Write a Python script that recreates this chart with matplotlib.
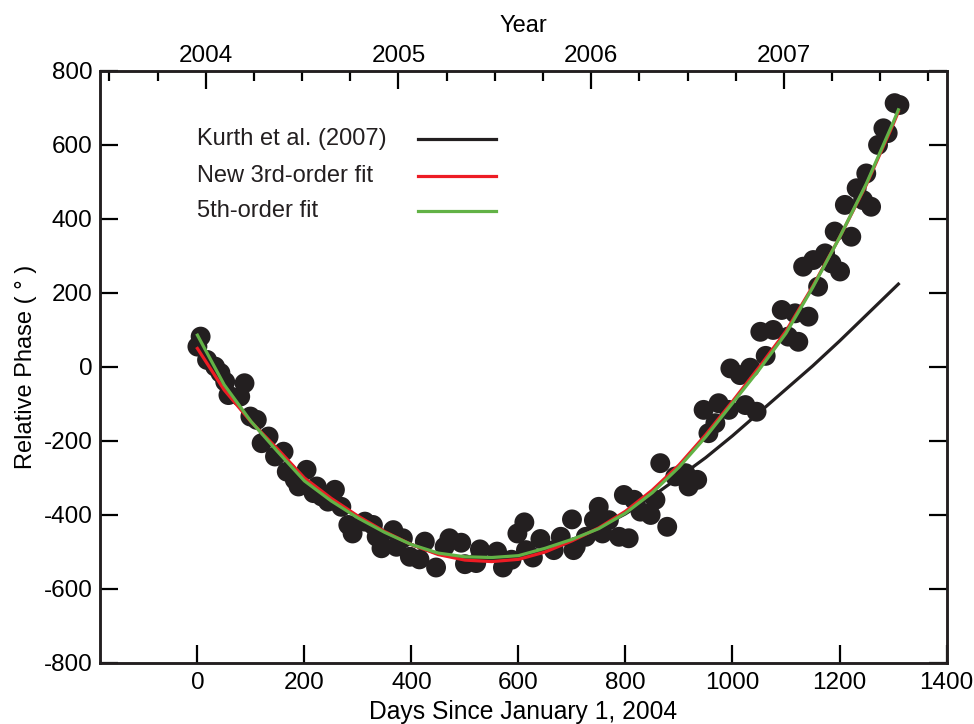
import matplotlib
matplotlib.use('Agg')
import matplotlib.pyplot as plt
from matplotlib.ticker import MultipleLocator

plt.rcParams['font.family'] = ['Liberation Sans', 'DejaVu Sans']
plt.rcParams['axes.unicode_minus'] = False

# measured phase points (days since 2004-01-01, degrees)
days = [0, 6, 18, 33, 43, 52, 58, 80, 88, 99, 111, 120, 133, 145, 161, 167, 182, 189,
        204, 217, 223, 232, 244, 257, 269, 282, 290, 313, 328, 335, 341, 344, 366, 372,
        384, 397, 415, 425, 446, 462, 471, 493, 500, 521, 528, 560, 571, 587, 598, 611,
        614, 627, 641, 666, 679, 700, 703, 707, 726, 741, 750, 757, 769, 788, 797, 806,
        816, 828, 847, 856, 865, 878, 893, 912, 918, 934, 946, 955, 968, 974, 993, 996,
        1014, 1024, 1033, 1045, 1052, 1062, 1076, 1092, 1104, 1117, 1123, 1132, 1142,
        1151, 1160, 1173, 1185, 1191, 1201, 1210, 1222, 1232, 1244, 1250, 1259, 1272,
        1282, 1290, 1303, 1312]
phase = [55, 82, 19, 1, -16, -40, -76, -80, -44, -134, -143, -206, -188, -242, -229, -283,
         -305, -323, -278, -341, -323, -350, -364, -332, -378, -427, -450, -418, -427,
         -459, -463, -490, -441, -486, -463, -513, -520, -472, -542, -486, -463, -475,
         -533, -530, -493, -499, -542, -521, -450, -420, -495, -515, -465, -495, -459,
         -412, -495, -486, -459, -414, -378, -450, -414, -459, -346, -463, -359, -391,
         -400, -359, -260, -432, -296, -287, -323, -305, -116, -179, -152, -98, -116, -4,
         -22, -103, -2, -121, 95, 30, 100, 154, 82, 145, 68, 271, 136, 289, 217, 307, 280,
         366, 258, 438, 352, 483, 451, 523, 433, 600, 645, 632, 713, 708]

# fit curves
fit_days = [0, 50, 100, 150, 200, 250, 300, 350, 400, 450, 500, 550, 600, 650, 700,
            750, 800, 850, 900, 950, 1000, 1050, 1100, 1150, 1200, 1250, 1300, 1310]
kurth = [70, -55, -147, -226, -304, -358, -405, -446, -480, -505, -517, -520, -514,
         -495, -468, -435, -397, -350, -298, -245, -186, -123, -60, 3, 70, 140, 210, 224]
fit3 = [50, -62, -148, -222, -300, -355, -403, -445, -480, -507, -522, -526, -520,
        -500, -470, -435, -390, -333, -265, -183, -93, 0, 97, 218, 350, 492, 655, 690]
fit5 = [86, -48, -147, -229, -308, -362, -408, -447, -480, -503, -513, -515, -510,
        -490, -466, -437, -395, -340, -271, -189, -98, -7, 91, 215, 350, 495, 660, 695]

labels = ['Kurth et al. (2007)', 'New 3rd-order fit', '5th-order fit']
colors = ['#231f20', '#ed1c24', '#62b246']
years = [2004, 2005, 2006, 2007]

fig = plt.figure(figsize=(9.74, 7.24), dpi=100)
ax = fig.add_axes([0.1027, 0.0843, 0.8691, 0.8177])

ax.scatter(days, phase, s=205, color='#231f20', edgecolors='none', zorder=2)
for yv, c, z in zip([kurth, fit3, fit5], colors, [3, 4, 5]):
    ax.plot(fit_days, yv, color=c, lw=2.3, zorder=z)

ax.set_xlim(-182, 1400)
ax.set_ylim(-800, 800)
ax.set_xticks(range(0, 1401, 200))
ax.set_yticks(range(-800, 801, 200))
ax.tick_params(direction='in', length=13, width=1.6, labelsize=17.5,
               right=True, top=False)
ax.tick_params(axis='x', pad=6.5)
ax.tick_params(axis='y', pad=5.5)
for sp in ax.spines.values():
    sp.set_linewidth(1.8)
    sp.set_color('#231f20')
ax.set_xlabel('Days Since January 1, 2004', fontsize=17.7, labelpad=4)
ax.set_ylabel('Relative Phase ( ° )', fontsize=17, labelpad=5)

top = ax.twiny()
top.set_xlim(2003.4515, 2007.844)
top.set_xticks(years)
top.xaxis.set_minor_locator(MultipleLocator(0.25))
top.tick_params(axis='x', which='major', direction='in', length=13, width=1.6,
                labelsize=17.5, pad=3)
top.tick_params(axis='x', which='minor', direction='in', length=7, width=1.6)
for sp in top.spines.values():
    sp.set_linewidth(1.8)
    sp.set_color('#231f20')
top.set_xlabel('Year', fontsize=17, labelpad=9)

# legend with the line samples to the right of the text
rows = [0.885, 0.8226, 0.7635]
for lab, c, ry in zip(labels, colors, rows):
    ax.text(0.1146, ry, lab, transform=ax.transAxes, fontsize=17,
            va='center', ha='left', color='#231f20')
    ax.plot([0.3757, 0.4678], [ry, ry], transform=ax.transAxes, color=c, lw=2.3)

fig.savefig('out.png', dpi=100)
